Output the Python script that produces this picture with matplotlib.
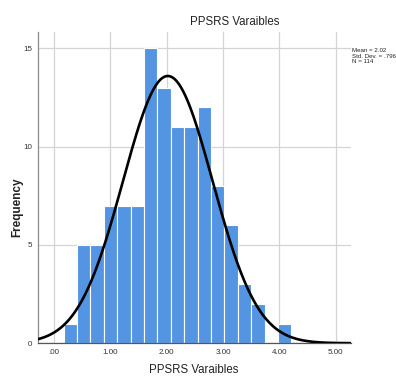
import numpy as np
import matplotlib
matplotlib.use("Agg")
import matplotlib.pyplot as plt

# histogram data
counts = [1, 5, 5, 7, 7, 7, 15, 13, 11, 11, 12, 8, 6, 3, 2, 0, 1]
bin_start = 0.17
bin_width = 0.238
mean, sd, n = 2.02, 0.796, 114
x_ticks = [0, 1, 2, 3, 4, 5]
x_tick_labels = [".00", "1.00", "2.00", "3.00", "4.00", "5.00"]
y_ticks = [0, 5, 10, 15]

narrow = ["Liberation Sans Narrow", "Liberation Sans", "DejaVu Sans"]

fig = plt.figure(figsize=(3.96, 3.78), dpi=100)
ax = fig.add_axes([0.096, 0.092, 0.790, 0.823])

edges = bin_start + bin_width * np.arange(len(counts) + 1)
ax.bar(edges[:-1], counts, width=bin_width, align="edge",
       color="#5495e3", edgecolor="white", linewidth=0.8, zorder=2)

xs = np.linspace(-0.3, 5.3, 400)
pdf = np.exp(-0.5 * ((xs - mean) / sd) ** 2) / (sd * np.sqrt(2 * np.pi))
ax.plot(xs, n * bin_width * pdf, color="black", lw=1.9, zorder=3)

ax.set_xlim(-0.284, 5.27)
ax.set_ylim(0, 15.83)
ax.set_xticks(x_ticks)
ax.set_xticklabels(x_tick_labels, family=narrow, fontsize=5.8, color="#333333")
ax.set_yticks(y_ticks)
ax.set_yticklabels([str(v) for v in y_ticks], family=narrow, fontsize=5.8, color="#333333")
ax.tick_params(length=0, pad=4)

ax.grid(True, color="#d4d4d4", lw=0.9, zorder=0)
ax.set_axisbelow(True)
for side in ["top", "right"]:
    ax.spines[side].set_visible(False)
ax.spines["left"].set_color("#8c8c8c")
ax.spines["bottom"].set_color("#555555")
ax.spines["left"].set_linewidth(0.9)
ax.spines["bottom"].set_linewidth(0.9)

fig.text(0.593, 0.942, "PPSRS Varaibles", ha="center", va="center",
         family=narrow, fontsize=8.3, color="#222222")
fig.text(0.49, 0.004, "PPSRS Varaibles", ha="center", va="bottom",
         family=narrow, fontsize=8.3, color="#222222")
fig.text(0.044, 1 - 207 / 378, "Frequency", rotation=90, ha="center", va="center",
         family=["Liberation Sans", "DejaVu Sans"], fontsize=8.5, fontweight="bold",
         color="#222222")
fig.text(0.889, 1 - 48 / 378, "Mean = 2.02\nStd. Dev. = .796\nN = 114",
         ha="left", va="top", family=narrow, fontsize=4.4, linespacing=1.15,
         color="#222222")

fig.savefig("out.png", dpi=100)
